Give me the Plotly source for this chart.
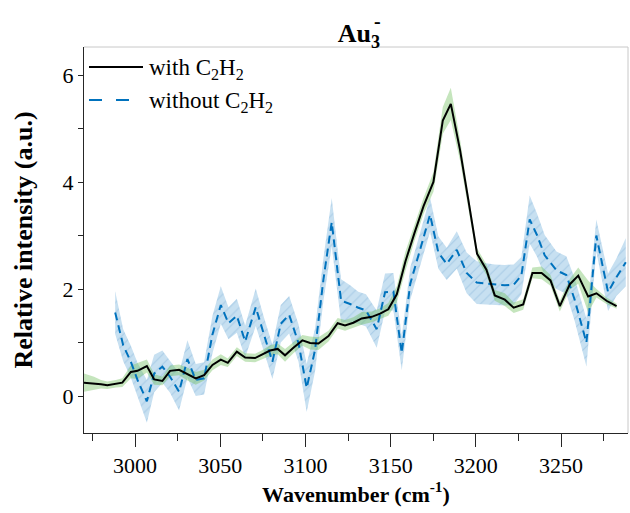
import plotly.graph_objects as go

# Spectrum with acetylene (solid) and its uncertainty
with_x = [2970.0, 2975.9, 2980.0, 2983.7, 2988.7, 2992.5, 2997.5, 3001.4, 3006.9, 3011.2,
          3016.0, 3020.5, 3025.8, 3030.7, 3035.6, 3040.5, 3045.4, 3050.3, 3054.4, 3059.7,
          3064.6, 3070.4, 3074.3, 3079.2, 3083.7, 3088.0, 3092.9, 3098.2, 3102.7, 3107.6,
          3113.5, 3118.9, 3123.2, 3128.1, 3133.0, 3138.9, 3143.8, 3148.6, 3153.6, 3158.7,
          3164.0, 3169.3, 3175.1, 3180.6, 3185.3, 3190.7, 3195.6, 3200.7, 3206.2, 3211.1,
          3217.0, 3222.2, 3227.8, 3233.2, 3238.6, 3243.8, 3249.3, 3255.2, 3260.1, 3265.9,
          3270.8, 3276.7, 3282.6]
with_y = [0.25, 0.24, 0.22, 0.20, 0.23, 0.25, 0.45, 0.47, 0.56, 0.31,
          0.28, 0.47, 0.49, 0.41, 0.33, 0.39, 0.58, 0.68, 0.62, 0.83,
          0.72, 0.71, 0.77, 0.85, 0.88, 0.76, 0.90, 1.04, 0.99, 0.98,
          1.12, 1.36, 1.32, 1.37, 1.45, 1.48, 1.54, 1.62, 1.90, 2.52,
          3.05, 3.55, 4.00, 5.15, 5.46, 4.60, 3.66, 2.66, 2.36, 1.88,
          1.80, 1.65, 1.71, 2.30, 2.30, 2.16, 1.68, 2.09, 2.25, 1.86,
          1.92, 1.78, 1.68]
with_err = [0.17, 0.12, 0.08, 0.07, 0.07, 0.08, 0.12, 0.15, 0.12, 0.10,
            0.08, 0.10, 0.10, 0.12, 0.12, 0.10, 0.10, 0.10, 0.08, 0.08,
            0.08, 0.08, 0.08, 0.10, 0.10, 0.12, 0.10, 0.10, 0.12, 0.12,
            0.10, 0.10, 0.10, 0.10, 0.12, 0.10, 0.10, 0.12, 0.15, 0.18,
            0.15, 0.15, 0.18, 0.25, 0.30, 0.20, 0.12, 0.10, 0.10, 0.10,
            0.12, 0.10, 0.10, 0.10, 0.12, 0.10, 0.10, 0.10, 0.15, 0.30,
            0.08, 0.06, 0.05]

# Spectrum without acetylene (dashed) and its uncertainty
without_x = [2988.3, 2993.0, 2997.5, 3001.4, 3006.9, 3011.2, 3016.0, 3020.5, 3025.8, 3030.7,
             3035.6, 3040.5, 3045.4, 3050.3, 3054.8, 3059.7, 3064.6, 3070.8, 3075.6, 3080.6,
             3085.5, 3090.4, 3095.9, 3100.7, 3105.6, 3110.5, 3115.4, 3120.9, 3126.2, 3131.0,
             3135.5, 3141.8, 3146.7, 3151.6, 3156.5, 3161.5, 3167.3, 3173.1, 3178.0, 3182.9,
             3188.8, 3194.6, 3200.5, 3206.2, 3211.1, 3217.0, 3222.2, 3226.7, 3231.6, 3236.0,
             3240.4, 3247.3, 3253.1, 3258.0, 3264.9, 3270.7, 3277.6, 3282.5, 3288.0]
without_y = [1.56, 0.95, 0.64, 0.30, -0.10, 0.42, 0.55, 0.36, 0.08, 0.69,
             0.30, 0.33, 1.15, 1.70, 1.36, 1.50, 1.02, 1.66, 1.15, 0.64,
             1.35, 1.52, 0.99, 0.15, 0.86, 2.17, 3.25, 1.78, 1.72, 1.65,
             1.60, 1.25, 1.94, 1.95, 0.80, 2.10, 2.74, 3.39, 2.68, 2.47,
             2.73, 2.30, 2.12, 2.10, 2.08, 2.07, 2.08, 2.25, 3.30, 3.00,
             2.63, 2.35, 2.26, 1.80, 1.00, 3.00, 1.94, 2.22, 2.50]
without_err = [0.40, 0.30, 0.30, 0.32, 0.40, 0.35, 0.30, 0.30, 0.35, 0.35,
               0.30, 0.30, 0.35, 0.35, 0.30, 0.32, 0.30, 0.35, 0.32, 0.32,
               0.35, 0.35, 0.35, 0.45, 0.40, 0.40, 0.45, 0.40, 0.35, 0.30,
               0.30, 0.35, 0.35, 0.35, 0.32, 0.30, 0.30, 0.32, 0.30, 0.30,
               0.35, 0.38, 0.40, 0.38, 0.38, 0.38, 0.38, 0.35, 0.45, 0.40,
               0.38, 0.35, 0.35, 0.40, 0.45, 0.30, 0.35, 0.35, 0.45]

legend_labels = ["with C<sub>2</sub>H<sub>2</sub>", "without C<sub>2</sub>H<sub>2</sub>"]

FONT = "Liberation Serif"
BLACK = "#000000"
BLUE = "#0072BD"


def band(x, y, e):
    upper = [a + b for a, b in zip(y, e)]
    lower = [a - b for a, b in zip(y, e)]
    return list(x) + list(x)[::-1], upper + lower[::-1]


fig = go.Figure()

bx, by = band(without_x, without_y, without_err)
fig.add_trace(go.Scatter(
    x=bx, y=by, mode="lines", fill="toself", line=dict(width=0),
    fillcolor="rgba(0,114,189,0.22)",
    fillpattern=dict(shape="/", bgcolor="rgba(0,114,189,0.22)",
                     fgcolor="rgba(0,90,170,0.30)", size=7, solidity=0.15),
    hoverinfo="skip", showlegend=False))

gx, gy = band(with_x, with_y, with_err)
fig.add_trace(go.Scatter(
    x=gx, y=gy, mode="lines", fill="toself", line=dict(width=0),
    fillcolor="rgba(110,190,90,0.40)", hoverinfo="skip", showlegend=False))

fig.add_trace(go.Scatter(
    x=without_x, y=without_y, mode="lines",
    line=dict(color=BLUE, width=2, dash="8px,5px"), showlegend=False))

fig.add_trace(go.Scatter(
    x=with_x, y=with_y, mode="lines",
    line=dict(color=BLACK, width=2), showlegend=False))

# legend drawn inside the top-left corner of the axes
PX_L, PX_R, PX_T, PX_B = 84, 628, 47, 433


def px(xp):
    return (xp - PX_L) / (PX_R - PX_L)


def py(yp):
    return (PX_B - yp) / (PX_B - PX_T)


shapes = [
    dict(type="line", xref="paper", yref="paper", x0=px(89), x1=px(143),
         y0=py(67), y1=py(67), line=dict(color=BLACK, width=2)),
    dict(type="line", xref="paper", yref="paper", x0=px(89), x1=px(130),
         y0=py(100), y1=py(100), line=dict(color=BLUE, width=2, dash="13px,14px")),
    # light frame on top and right
    dict(type="line", xref="paper", yref="paper", x0=0, x1=1, y0=1, y1=1,
         line=dict(color="#c8c8c8", width=1)),
    dict(type="line", xref="paper", yref="paper", x0=1, x1=1, y0=0, y1=1,
         line=dict(color="#c8c8c8", width=1)),
]

annotations = [
    dict(text=legend_labels[0], xref="paper", yref="paper", x=px(147), y=py(69),
         xanchor="left", yanchor="middle", showarrow=False,
         font=dict(family=FONT, size=23, color="#000")),
    dict(text=legend_labels[1], xref="paper", yref="paper", x=px(147), y=py(102),
         xanchor="left", yanchor="middle", showarrow=False,
         font=dict(family=FONT, size=23, color="#000")),
    # charge sign stacked over the subscript of the title
    dict(text="<b>-</b>", xref="paper", yref="paper", x=px(377), y=py(21),
         xanchor="center", yanchor="middle", showarrow=False,
         font=dict(family=FONT, size=20, color="#000")),
]

fig.update_layout(
    width=630, height=513,
    margin=dict(l=PX_L, r=630 - PX_R, t=PX_T, b=513 - PX_B),
    paper_bgcolor="white", plot_bgcolor="white",
    font=dict(family=FONT, size=22, color="#000"),
    title=dict(text="<b>Au<sub>3</sub></b>", x=px(359), xref="paper", xanchor="center",
               y=1 - 33 / 513, yref="container", yanchor="middle",
               font=dict(family=FONT, size=26, color="#000")),
    shapes=shapes, annotations=annotations, showlegend=False,
)

fig.update_xaxes(
    range=[2970.0, 3289.3], tick0=3000, dtick=50,
    ticks="outside", ticklen=13, tickwidth=1, tickcolor="#262626",
    minor=dict(ticks="outside", ticklen=7, tick0=2975, dtick=50, tickcolor="#262626"),
    showline=True, linecolor="#262626", linewidth=1,
    showgrid=False, zeroline=False,
    tickfont=dict(family=FONT, size=22, color="#000"),
    title=dict(text="<b>Wavenumber (cm<sup>-1</sup>)</b>",
               font=dict(family=FONT, size=22, color="#000"), standoff=8),
)

fig.update_yaxes(
    range=[-(PX_B - 396) / 53.5, (396 - PX_T) / 53.5], tick0=0, dtick=2,
    ticks="outside", ticklen=5, tickwidth=1, tickcolor="#262626",
    minor=dict(ticks="outside", ticklen=5, tick0=1, dtick=2, tickcolor="#262626"),
    showline=True, linecolor="#262626", linewidth=1,
    showgrid=False, zeroline=False,
    tickfont=dict(family=FONT, size=22, color="#000"),
    title=dict(text="<b>Relative intensity (a.u.)</b>",
               font=dict(family=FONT, size=26, color="#000"), standoff=22),
)

fig.write_html("out.html")
